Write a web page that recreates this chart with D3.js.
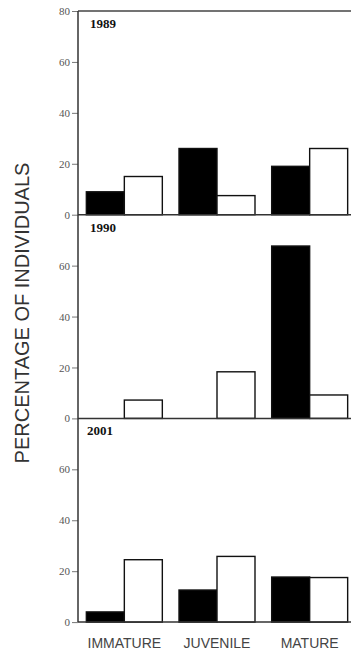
<!DOCTYPE html>
<html>
<head>
<meta charset="utf-8">
<script src="https://cdn.jsdelivr.net/npm/d3@7"></script>
<style>
  body { margin: 0; background: #fff; }
  svg { display: block; }
</style>
</head>
<body>
<svg id="container"></svg>
<script>
// stages and years
const stages = ['IMMATURE', 'JUVENILE', 'MATURE'];
const years = ['1989', '1990', '2001'];
const series = ['black', 'white'];

// percentage values (black bar, white bar per stage)
const black1989 = [9, 26, 19];
const white1989 = [15, 7.5, 26];
const black1990 = [0, 0, 67.7];
const white1990 = [7.2, 18.3, 9.2];
const black2001 = [4, 12.6, 17.7];
const white2001 = [24.5, 25.8, 17.5];

const yTicksTop = [0, 20, 40, 60, 80];
const yTicksRest = [0, 20, 40, 60];

const panels = [
    { year: years[0], black: black1989, white: white1989, ticks: yTicksTop },
    { year: years[1], black: black1990, white: white1990, ticks: yTicksRest },
    { year: years[2], black: black2001, white: white2001, ticks: yTicksRest }
];

const width = 351;
const height = 651;
const left = 78;
const marginTop = 11;
const panelH = 203.7;

const svg = d3.select('#container')
    .attr('width', width)
    .attr('height', height);

const x0 = d3.scaleBand()
    .domain(stages)
    .range([left, 356])
    .paddingInner(0.18)
    .paddingOuter(0.09);

const x1 = d3.scaleBand()
    .domain(series)
    .range([0, x0.bandwidth()]);

panels.forEach(function(p, i) {
    const y0 = marginTop + i * panelH;
    const y = d3.scaleLinear()
        .domain([0, 80])
        .range([y0 + panelH, y0]);

    const g = svg.append('g');

    const rows = stages.map((s, j) => ({ stage: s, black: p.black[j], white: p.white[j] }));

    g.selectAll('g.grp')
        .data(rows)
        .enter()
        .append('g')
        .attr('transform', d => 'translate(' + x0(d.stage) + ',0)')
        .selectAll('rect')
        .data(d => series.map(k => ({ key: k, value: d[k] })).filter(e => e.value > 0))
        .enter()
        .append('rect')
        .attr('x', d => x1(d.key))
        .attr('width', x1.bandwidth())
        .attr('y', d => y(d.value))
        .attr('height', d => y(0) - y(d.value))
        .attr('fill', d => d.key === 'black' ? '#000' : '#fff')
        .attr('stroke', '#111')
        .attr('stroke-width', 1.4);

    // baseline across the panel
    g.append('line')
        .attr('x1', left)
        .attr('x2', width)
        .attr('y1', y(0))
        .attr('y2', y(0))
        .attr('stroke', '#333')
        .attr('stroke-width', 1.5);

    const axis = d3.axisLeft(y)
        .tickValues(p.ticks)
        .tickSize(6)
        .tickPadding(2);

    const ax = g.append('g')
        .attr('transform', 'translate(' + left + ',0)')
        .call(axis);
    ax.select('.domain').remove();
    ax.selectAll('line').attr('stroke', '#777');
    ax.selectAll('text')
        .attr('font-family', 'Liberation Serif, serif')
        .attr('font-size', 11)
        .attr('fill', '#555');

    g.append('text')
        .attr('x', i === 2 ? 87 : 90)
        .attr('y', y0 + 17)
        .attr('font-family', 'Liberation Serif, serif')
        .attr('font-weight', 'bold')
        .attr('font-size', 13)
        .attr('fill', '#111')
        .text(p.year);
});

// top frame and vertical axis line
svg.append('line')
    .attr('x1', left).attr('x2', width)
    .attr('y1', marginTop).attr('y2', marginTop)
    .attr('stroke', '#444').attr('stroke-width', 1.3);
svg.append('line')
    .attr('x1', left).attr('x2', left)
    .attr('y1', marginTop).attr('y2', marginTop + 3 * panelH)
    .attr('stroke', '#333').attr('stroke-width', 1.5);

// category labels
svg.selectAll('text.cat')
    .data(stages)
    .enter()
    .append('text')
    .attr('class', 'cat')
    .attr('x', d => x0(d) + x0.bandwidth() / 2)
    .attr('y', 648)
    .attr('text-anchor', 'middle')
    .attr('font-family', 'Liberation Sans, Arial, sans-serif')
    .attr('font-size', 14)
    .attr('fill', '#444')
    .text(d => d);

svg.append('text')
    .attr('transform', 'translate(29,313) rotate(-90)')
    .attr('text-anchor', 'middle')
    .attr('font-family', 'Liberation Sans, Arial, sans-serif')
    .attr('font-size', 20)
    .attr('fill', '#333')
    .text('PERCENTAGE OF INDIVIDUALS');
</script>
</body>
</html>
